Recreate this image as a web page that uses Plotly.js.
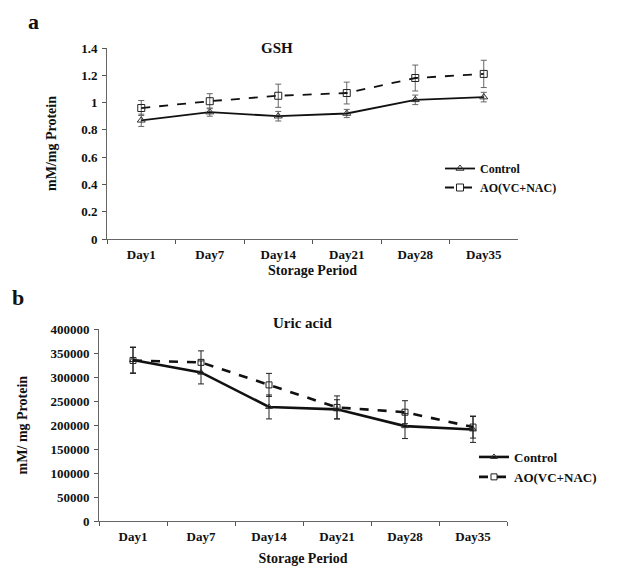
<!DOCTYPE html>
<html><head><meta charset="utf-8">
<script src="https://cdn.plot.ly/plotly-3.0.1.min.js"></script>
<style>body{margin:0;background:#fff}#c{width:622px;height:566px}</style>
</head><body><div id="c"></div>
<script>
const days = ["Day1","Day7","Day14","Day21","Day28","Day35"];
const gshControl = [0.87, 0.93, 0.90, 0.92, 1.02, 1.04];
const gshControlErr = [0.045, 0.03, 0.035, 0.03, 0.035, 0.035];
const gshAO = [0.96, 1.01, 1.05, 1.07, 1.18, 1.21];
const gshAOErr = [0.055, 0.055, 0.085, 0.08, 0.095, 0.10];
const uricControl = [336000, 310000, 238000, 233000, 198000, 191000];
const uricControlErr = [27000, 24000, 25000, 20000, 26000, 27000];
const uricAO = [335000, 331000, 284000, 237000, 227000, 196000];
const uricAOErr = [27000, 24000, 24000, 24000, 24000, 23000];

const F = "Liberation Serif";
function err(a, c){return {type:'data', array:a, visible:true, color:c, thickness:1, width:3};}

const traces = [
  {x:days, y:gshControl, error_y:err(gshControlErr,'#666'), name:'Control', mode:'lines+markers',
   line:{color:'#111', width:1.8}, marker:{symbol:'triangle-up-open', size:7, color:'#333'}, xaxis:'x', yaxis:'y', legend:'legend'},
  {x:days, y:gshAO, error_y:err(gshAOErr,'#666'), name:'AO(VC+NAC)', mode:'lines+markers',
   line:{color:'#111', width:1.8, dash:'dash'}, marker:{symbol:'square-open', size:7, color:'#222'}, xaxis:'x', yaxis:'y', legend:'legend'},
  {x:days, y:uricControl, error_y:err(uricControlErr,'#222'), name:'Control', mode:'lines+markers',
   line:{color:'#111', width:2.6}, marker:{symbol:'triangle-up-open', size:6, color:'#333'}, xaxis:'x2', yaxis:'y2', legend:'legend2'},
  {x:days, y:uricAO, error_y:err(uricAOErr,'#222'), name:'AO(VC+NAC)', mode:'lines+markers',
   line:{color:'#111', width:2.6, dash:'dash'}, marker:{symbol:'square-open', size:6, color:'#222'}, xaxis:'x2', yaxis:'y2', legend:'legend2'}
];

const tickF = {family:F, size:13, color:'#111', weight:'bold'};
const titleF = {family:F, size:14, color:'#111', weight:'bold'};
const xa = {type:'category', tickson:'boundaries', ticks:'outside', ticklen:4, tickcolor:'#555',
  showline:true, linecolor:'#666', linewidth:1, showgrid:false, zeroline:false, tickfont:tickF,
  range:[-0.5,5.5], ticklabelstandoff:3};
const ya = {ticks:'outside', ticklen:4, tickcolor:'#555', showline:true, linecolor:'#666', linewidth:1,
  showgrid:false, zeroline:false, tickfont:tickF, ticklabelstandoff:2};

const layout = {
  width:622, height:566, margin:{l:0,r:0,t:0,b:0}, paper_bgcolor:'#fff', plot_bgcolor:'#fff',
  xaxis:Object.assign({}, xa, {domain:[107/622, 518/622], anchor:'y',
    title:{text:'Storage Period', font:titleF, standoff:4}}),
  yaxis:Object.assign({}, ya, {domain:[(566-239)/566, (566-48)/566], anchor:'x', range:[0,1.4], dtick:0.2,
    title:{text:'mM/mg Protein', font:titleF, standoff:21}}),
  xaxis2:Object.assign({}, xa, {domain:[99/622, 507/622], anchor:'y2',
    title:{text:'Storage Period', font:titleF, standoff:10}}),
  yaxis2:Object.assign({}, ya, {domain:[(566-521)/566, (566-329.3)/566], anchor:'x2', range:[0,400000], dtick:50000,
    tickformat:'d', title:{text:'mM/ mg Protein', font:titleF, standoff:19}}),
  legend:{x:440/622, y:1-154/566, xanchor:'left', yanchor:'top', bgcolor:'rgba(0,0,0,0)',
    font:{family:F, size:12, color:'#111', weight:'bold'}, itemwidth:30, tracegroupgap:0},
  legend2:{x:474/622, y:1-442/566, xanchor:'left', yanchor:'top', bgcolor:'rgba(0,0,0,0)',
    font:{family:F, size:13, color:'#111', weight:'bold'}, itemwidth:30, tracegroupgap:0},
  showlegend:true,
  annotations:[
    {text:'a', x:26/622, y:1-21/566, xref:'paper', yref:'paper', showarrow:false, xanchor:'left', yanchor:'middle',
     font:{family:F, size:22, color:'#111', weight:'bold'}},
    {text:'b', x:10/622, y:1-297/566, xref:'paper', yref:'paper', showarrow:false, xanchor:'left', yanchor:'middle',
     font:{family:F, size:22, color:'#111', weight:'bold'}},
    {text:'GSH', x:277/622, y:1-48/566, xref:'paper', yref:'paper', showarrow:false, xanchor:'center', yanchor:'middle',
     font:{family:F, size:15, color:'#111', weight:'bold'}},
    {text:'Uric acid', x:302/622, y:1-323/566, xref:'paper', yref:'paper', showarrow:false, xanchor:'center', yanchor:'middle',
     font:{family:F, size:15, color:'#111', weight:'bold'}}
  ]
};
Plotly.newPlot('c', traces, layout, {displayModeBar:false, staticPlot:true});
</script></body></html>
